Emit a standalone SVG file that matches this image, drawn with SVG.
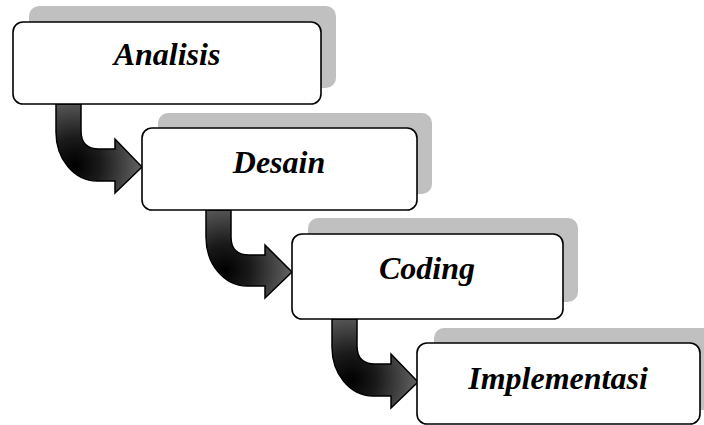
<svg xmlns="http://www.w3.org/2000/svg" width="704" height="425" viewBox="0 0 704 425">
<defs>
<style>
.shadow{fill:#c0c0c0;stroke:none}
.box{fill:#ffffff;stroke:#000000;stroke-width:1.6}
.label{font-family:"Liberation Serif","Times New Roman",serif;font-weight:bold;font-style:italic;font-size:32px;fill:#000000;text-anchor:middle}
.arrow{fill:url(#ag);stroke:#000000;stroke-width:1.5;stroke-linejoin:miter}
</style>
<radialGradient id="ag" cx="0.22" cy="0.68" r="0.85" fx="0.22" fy="0.68">
<stop offset="0" stop-color="#000000"/>
<stop offset="0.35" stop-color="#1a1a1a"/>
<stop offset="1" stop-color="#6e6e6e"/>
</radialGradient>
</defs>
<rect width="704" height="425" fill="#ffffff"/>
<g id="connectors">
<path class="arrow" d="M56,104 L81,104 L81,131 Q81,149 99,149 L115,149 L115,139 L142,167 L115,193 L115,181 L97,181 C74,181 56,159 56,132 Z"/>
<path class="arrow" d="M206,210 L231,210 L231,237 Q231,255 249,255 L265,255 L265,245 L292,272 L265,298 L265,286 L247,286 C224,286 206,264 206,237 Z"/>
<path class="arrow" d="M332,319 L357,319 L357,346 Q357,364 375,364 L391,364 L391,354 L418,382 L391,408 L391,396 L373,396 C350,396 332,374 332,347 Z"/>
</g>
<g id="node-analisis">
<rect class="shadow" x="29" y="6" width="307" height="82" rx="10"/>
<rect class="box" x="13" y="22" width="308" height="82" rx="10"/>
<text class="label" x="167" y="65">Analisis</text>
</g>
<g id="node-desain">
<rect class="shadow" x="158" y="113" width="274" height="81" rx="10"/>
<rect class="box" x="142" y="128" width="275" height="82" rx="10"/>
<text class="label" x="279" y="173">Desain</text>
</g>
<g id="node-coding">
<rect class="shadow" x="308" y="218" width="270" height="84" rx="10"/>
<rect class="box" x="292" y="234" width="271" height="85" rx="10"/>
<text class="label" x="427" y="279">Coding</text>
</g>
<g id="node-implementasi">
<rect class="shadow" x="434" y="328" width="290" height="82" rx="10"/>
<rect class="box" x="417" y="343" width="283" height="81" rx="10"/>
<text class="label" x="558" y="389">Implementasi</text>
</g>
</svg>
